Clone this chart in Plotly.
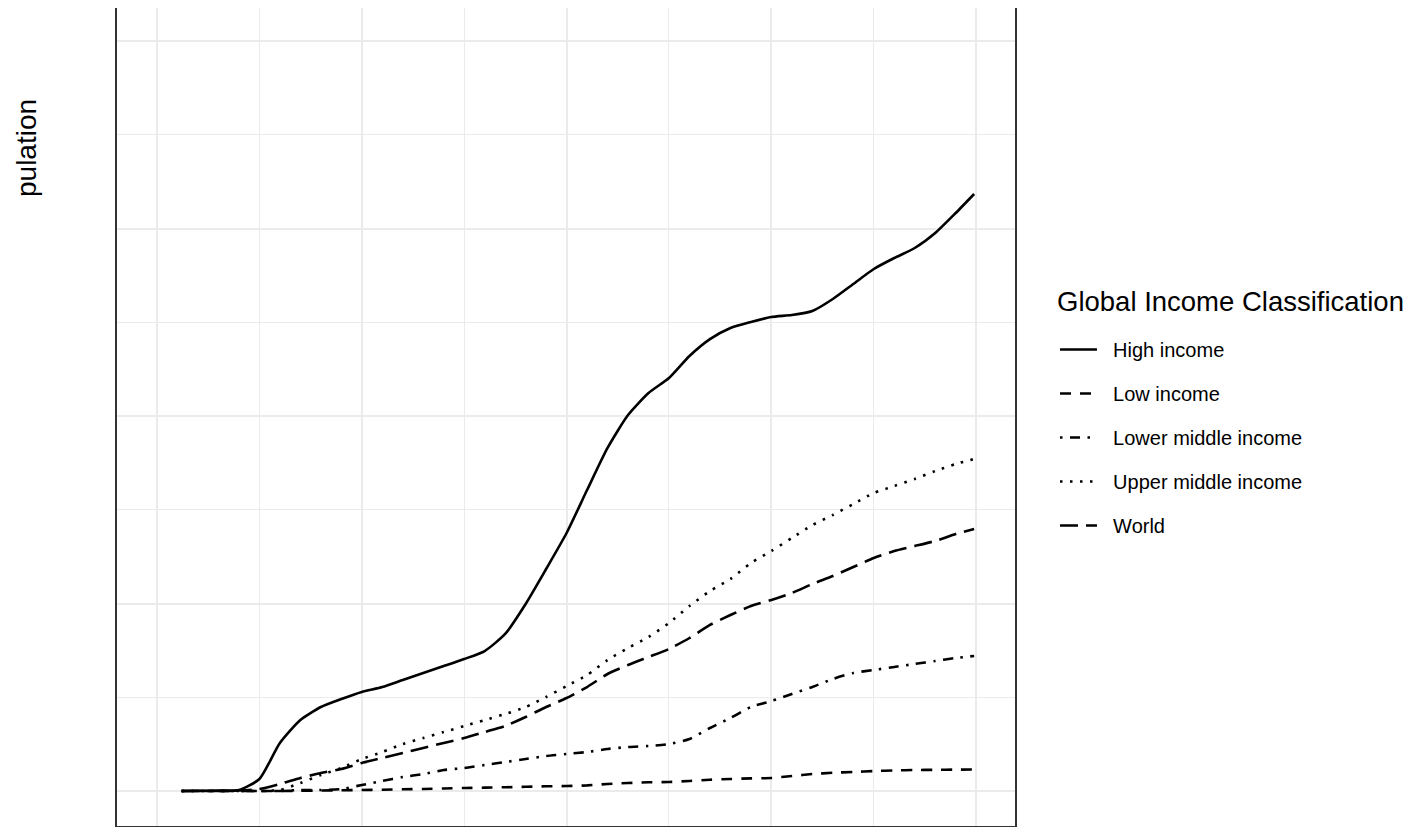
import plotly.graph_objects as go

# Day index since start of series (x axis, tick labels not shown in the reference)
days = [12, 20, 30, 40, 50, 60, 70, 80, 90, 100, 110, 120, 130, 140, 150, 160, 170, 180, 190, 200,
        210, 220, 230, 240, 250, 260, 270, 280, 290, 300, 310, 320, 330, 340, 350, 360, 370, 380, 390, 399]

high_income = [0, 0.02, 0.05, 0.1, 1.28, 5.12, 7.57, 8.96, 9.81, 10.56, 11.09, 11.84, 12.59, 13.33, 14.08,
               14.93, 16.75, 19.95, 23.68, 27.52, 32.1, 36.59, 40.1, 42.45, 44.05, 46.4, 48.2, 49.39, 50.03,
               50.56, 50.77, 51.2, 52.48, 54.08, 55.68, 56.85, 57.92, 59.52, 61.65, 63.68]

low_income = [0, 0, 0, 0, 0, 0, 0.02, 0.05, 0.08, 0.11, 0.14, 0.18, 0.22, 0.27, 0.32, 0.36, 0.4, 0.45, 0.5,
              0.53, 0.6, 0.75, 0.85, 0.93, 0.96, 1.07, 1.2, 1.28, 1.35, 1.39, 1.6, 1.81, 1.95, 2.03, 2.13,
              2.2, 2.24, 2.26, 2.28, 2.3]

lower_middle = [0, 0, 0, 0, 0, 0, 0.11, 0.11, 0.21, 0.64, 1.07, 1.49, 1.81, 2.24, 2.45, 2.77, 3.09, 3.41,
                3.73, 3.95, 4.16, 4.48, 4.69, 4.8, 5.01, 5.55, 6.72, 7.79, 8.96, 9.6, 10.35, 11.09, 11.95,
                12.59, 12.91, 13.23, 13.55, 13.87, 14.19, 14.4]

upper_middle = [0, 0, 0, 0, 0, 0.11, 0.85, 1.71, 2.45, 3.41, 4.16, 5.01, 5.65, 6.29, 6.93, 7.57, 8.21, 8.96,
                10.03, 11.2, 12.37, 13.97, 15.25, 16.43, 17.92, 19.73, 21.33, 22.61, 24.32, 25.6, 26.99,
                28.37, 29.44, 30.61, 31.79, 32.53, 33.28, 34.13, 34.88, 35.41]

world = [0, 0, 0, 0.05, 0.21, 0.75, 1.39, 1.92, 2.35, 2.99, 3.52, 4.05, 4.59, 5.12, 5.65, 6.29, 6.93, 7.89,
         8.96, 9.92, 11.09, 12.48, 13.44, 14.29, 15.15, 16.32, 17.71, 18.77, 19.73, 20.37, 21.12, 22.08,
         22.93, 23.89, 24.85, 25.6, 26.13, 26.67, 27.41, 27.95]

series_names = ["High income", "Low income", "Lower middle income", "Upper middle income", "World"]
series_values = [high_income, low_income, lower_middle, upper_middle, world]
series_dash = ["solid", "11px,9px", "2.5px,7.5px,10px,7.5px", "2.5px,7.5px", "18px,8px"]

fig = go.Figure()
for i, (name, vals, dash) in enumerate(zip(series_names, series_values, series_dash)):
    fig.add_trace(go.Scatter(
        x=days, y=vals, name="\u00a0\u00a0" + name, mode="lines",
        line=dict(color="black", width=2.6, dash=dash, shape="spline", smoothing=0.6),
        legendgroup=f"g{i}",
    ))

grid_major = "#EBEBEB"
L, R, T, B = 109, 411, 0, 9
pw, ph = 1418 - L - R, 827 - T - B

fig.update_layout(
    width=1418, height=827,
    margin=dict(l=L, r=R, t=T, b=B, autoexpand=False),
    paper_bgcolor="white", plot_bgcolor="white",
    font=dict(family="Liberation Sans, Arial, sans-serif", color="black"),
    showlegend=True,
    legend=dict(
        x=(1047 - L) / pw, xanchor="left", y=(ph - 322) / ph, yanchor="top",
        font=dict(size=20, color="black"),
        traceorder="grouped", tracegroupgap=15, itemwidth=37,
        bgcolor="rgba(0,0,0,0)",
    ),
    xaxis=dict(
        range=[-19.53, 418.95], showticklabels=False, ticks="",
        tick0=0, dtick=100, showgrid=True, gridcolor=grid_major, gridwidth=2,
        minor=dict(tick0=0, dtick=50, showgrid=True, gridcolor=grid_major, gridwidth=1.2),
        zeroline=False, showline=True, mirror=True, linecolor="#333333", linewidth=1.6,
    ),
    yaxis=dict(
        range=[-3.733, 83.52], showticklabels=False, ticks="",
        tick0=0, dtick=20, showgrid=True, gridcolor=grid_major, gridwidth=2,
        minor=dict(tick0=0, dtick=10, showgrid=True, gridcolor=grid_major, gridwidth=1.2),
        zeroline=False, showline=True, mirror=True, linecolor="#333333", linewidth=1.6,
    ),
    annotations=[
        dict(
            text="pulation", textangle=-90, xref="paper", yref="paper",
            x=(18 - L) / pw, y=(ph - 140) / ph, xanchor="center", yanchor="middle", showarrow=False,
            font=dict(size=28, color="black"),
        ),
        dict(
            text="Global Income Classification", xref="paper", yref="paper",
            x=(1047 - L) / pw, y=(ph - 293) / ph, xanchor="left", yanchor="middle", showarrow=False,
            font=dict(size=27.5, color="black"),
        ),
    ],
)

fig.write_html("out.html")
